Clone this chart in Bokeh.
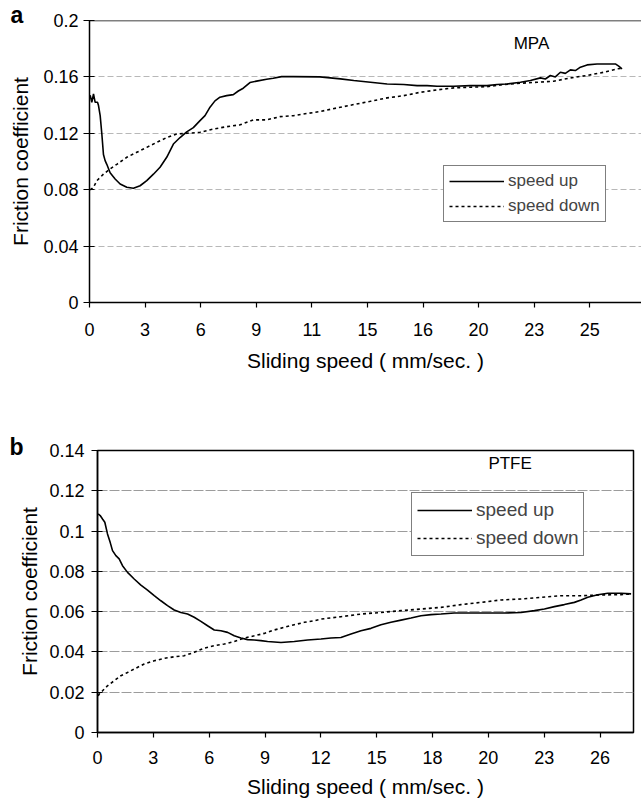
from bokeh.plotting import figure
from bokeh.layouts import column
from bokeh.models import FixedTicker, Label, Span, Range1d, Legend, Title
from bokeh.embed import file_html
from bokeh.resources import INLINE

FONT = "Liberation Sans"

# ---------------- Panel a (MPA) ----------------
# x positions are in evenly spaced tick-slot units (Excel category-style axis)
mpa_x_labels = ["0", "3", "6", "9", "11", "15", "16", "20", "23", "25"]
mpa_y_ticks = [0, 0.04, 0.08, 0.12, 0.16, 0.2]
mpa_y_labels = ["0", "0.04", "0.08", "0.12", "0.16", "0.2"]

mpa_up_pos = [0.012, 0.042, 0.072, 0.102, 0.144, 0.162, 0.192, 0.222, 0.251, 0.281,
              0.311, 0.371, 0.461, 0.551, 0.671, 0.790, 0.910, 1.030, 1.150, 1.269,
              1.389, 1.509, 1.629, 1.749, 1.868, 1.988, 2.078, 2.168, 2.257, 2.347,
              2.467, 2.587, 2.677, 2.766, 2.886, 3.006, 3.186, 3.305, 3.455, 3.665,
              4.144, 4.514, 4.754, 5.054, 5.354, 5.653, 5.893, 6.073, 6.253, 6.553,
              6.853, 7.152, 7.332, 7.512, 7.752, 7.932, 8.112, 8.200, 8.291, 8.380,
              8.471, 8.560, 8.651, 8.740, 8.831, 8.951, 9.131, 9.371, 9.460, 9.520, 9.580]
mpa_up_cof = [0.147, 0.142, 0.148, 0.142, 0.142, 0.1397, 0.1325, 0.1195, 0.105, 0.1006,
              0.098, 0.092, 0.0876, 0.084, 0.0817, 0.081, 0.0828, 0.0864, 0.091, 0.0959,
              0.103, 0.1124, 0.117, 0.121, 0.124, 0.129, 0.1325, 0.1385, 0.143, 0.1456,
              0.1467, 0.1474, 0.150, 0.152, 0.156, 0.157, 0.1583, 0.159, 0.1602, 0.1602,
              0.1600, 0.1586, 0.1574, 0.1562, 0.1550, 0.1546, 0.1538, 0.1538, 0.1534, 0.1534,
              0.1538, 0.1538, 0.1546, 0.1550, 0.1562, 0.1574, 0.1593, 0.1585, 0.1610, 0.1600,
              0.1633, 0.1625, 0.1650, 0.1645, 0.1669, 0.1685, 0.1692, 0.1692, 0.1692, 0.1676, 0.1657]

mpa_down_pos = [0.012, 0.072, 0.132, 0.251, 0.371, 0.491, 0.671, 0.850, 1.030, 1.210,
                1.389, 1.569, 1.749, 1.988, 2.228, 2.467, 2.707, 2.946, 3.186, 3.425,
                3.665, 3.904, 4.144, 4.454, 4.754, 5.054, 5.354, 5.653, 5.953, 6.253,
                6.553, 6.853, 7.152, 7.452, 7.752, 8.052, 8.351, 8.651, 8.951, 9.251,
                9.490, 9.580]
mpa_down_cof = [0.0798, 0.0817, 0.0864, 0.091, 0.0947, 0.098, 0.103, 0.1065, 0.110, 0.1136,
                0.117, 0.1195, 0.120, 0.1207, 0.123, 0.1247, 0.126, 0.1295, 0.1295, 0.1318,
                0.1325, 0.134, 0.1354, 0.138, 0.1404, 0.1427, 0.1451, 0.1467, 0.1491, 0.1508,
                0.1522, 0.1527, 0.1531, 0.1546, 0.1555, 0.1562, 0.1569, 0.1593, 0.161, 0.1633,
                0.1657, 0.1660]

# ---------------- Panel b (PTFE) ----------------
ptfe_x_labels = ["0", "3", "6", "9", "12", "15", "18", "20", "23", "26"]
ptfe_y_ticks = [0, 0.02, 0.04, 0.06, 0.08, 0.1, 0.12, 0.14]
ptfe_y_labels = ["0", "0.02", "0.04", "0.06", "0.08", "0.1", "0.12", "0.14"]

ptfe_up_pos = [0.012, 0.048, 0.090, 0.131, 0.179, 0.227, 0.269, 0.329, 0.388, 0.448,
               0.538, 0.657, 0.777, 0.896, 1.016, 1.135, 1.254, 1.374, 1.493, 1.613,
               1.732, 1.852, 1.971, 2.091, 2.210, 2.330, 2.449, 2.569, 2.688, 2.808,
               2.927, 3.047, 3.286, 3.524, 3.763, 4.002, 4.181, 4.360, 4.540, 4.719,
               4.898, 5.077, 5.256, 5.436, 5.615, 5.794, 5.973, 6.152, 6.391, 6.690,
               6.989, 7.287, 7.586, 7.825, 8.004, 8.183, 8.362, 8.541, 8.661, 8.781,
               8.960, 9.140, 9.378, 9.557]
ptfe_up_cof = [0.1085, 0.1077, 0.1060, 0.1044, 0.0986, 0.0944, 0.0903, 0.0878, 0.0862, 0.0828,
               0.0795, 0.0762, 0.0732, 0.0707, 0.0679, 0.0654, 0.0630, 0.0608, 0.0596, 0.0588,
               0.0572, 0.0552, 0.0530, 0.0509, 0.0505, 0.0497, 0.0480, 0.0469, 0.0461, 0.0459,
               0.0456, 0.0452, 0.0447, 0.0452, 0.0459, 0.0464, 0.0469, 0.0472, 0.0489, 0.0505,
               0.0517, 0.0535, 0.0547, 0.0558, 0.0568, 0.0580, 0.0585, 0.0588, 0.0593, 0.0593,
               0.0593, 0.0593, 0.0596, 0.0605, 0.0613, 0.0625, 0.0635, 0.0646, 0.0658, 0.0671,
               0.0684, 0.0691, 0.0691, 0.0688]

ptfe_down_pos = [0.012, 0.048, 0.090, 0.179, 0.299, 0.418, 0.538, 0.657, 0.836, 1.016,
                 1.195, 1.374, 1.553, 1.732, 1.912, 2.091, 2.270, 2.449, 2.628, 2.808,
                 2.987, 3.166, 3.345, 3.524, 3.704, 3.883, 4.002, 4.360, 4.719, 5.077,
                 5.436, 5.794, 6.152, 6.510, 6.869, 7.228, 7.586, 7.945, 8.303, 8.661,
                 9.020, 9.378, 9.557]
ptfe_down_cof = [0.0182, 0.0199, 0.0207, 0.0232, 0.0257, 0.0282, 0.0298, 0.0315, 0.0340, 0.0356,
                 0.0368, 0.0376, 0.0381, 0.0398, 0.0419, 0.0431, 0.0439, 0.0452, 0.0469, 0.0480,
                 0.0492, 0.0509, 0.0522, 0.0535, 0.0547, 0.0555, 0.0563, 0.0575, 0.0588, 0.0596,
                 0.0605, 0.0613, 0.0621, 0.0635, 0.0646, 0.0658, 0.0663, 0.0671, 0.0679, 0.0679,
                 0.0683, 0.0684, 0.0688]


def style(p, x_labels, y_ticks, y_labels, label_std_y, title_std_y, grid_color, grid_dash):
    p.background_fill_color = "white"
    p.border_fill_color = "white"
    p.xgrid.visible = False
    p.ygrid.ticker = FixedTicker(ticks=y_ticks[1:])
    p.ygrid.grid_line_color = grid_color
    p.ygrid.grid_line_dash = grid_dash
    p.ygrid.grid_line_width = 1

    xa = p.xaxis[0]
    xa.ticker = FixedTicker(ticks=list(range(len(x_labels))))
    xa.major_label_overrides = {i: s for i, s in enumerate(x_labels)}
    xa.minor_tick_line_color = None
    xa.major_tick_in = 0
    xa.major_tick_out = 5
    xa.axis_label = "Sliding speed ( mm/sec. )"

    ya = p.yaxis[0]
    ya.ticker = FixedTicker(ticks=y_ticks)
    ya.major_label_overrides = {t: s for t, s in zip(y_ticks, y_labels)}
    ya.minor_tick_line_color = None
    ya.major_tick_in = 5
    ya.major_tick_out = 6
    ya.major_label_standoff = label_std_y
    ya.axis_label = "Friction coefficient"
    ya.axis_label_standoff = title_std_y

    for ax in (xa, ya):
        ax.axis_line_color = "black"
        ax.axis_line_width = 1.5
        ax.major_tick_line_color = "black"
        ax.major_tick_line_width = 1.2
        ax.major_label_text_font = FONT
        ax.major_label_text_font_size = "18px"
        ax.major_label_text_color = "black"
        ax.axis_label_text_font = FONT
        ax.axis_label_text_font_size = "21px"
        ax.axis_label_text_font_style = "normal"
        ax.axis_label_text_color = "black"


# ---- figure a ----
pa = figure(width=641, height=376, output_backend="svg", toolbar_location=None,
            x_range=Range1d(0, 9.93), y_range=Range1d(0, 0.2),
            min_border_left=89, min_border_right=0, min_border_top=20, min_border_bottom=74)
pa.frame_align = False
pa.outline_line_color = None
style(pa, mpa_x_labels, mpa_y_ticks, mpa_y_labels, 5, 8, "#b8b8b8", "6 3")
pa.xaxis[0].major_label_standoff = 15
pa.xaxis[0].axis_label_standoff = 10
pa.add_layout(Span(location=0.2, dimension="width", line_color="black", line_width=1.5))
pa.add_layout(Title(text="a", align="left", offset=-79, standoff=-14, text_font=FONT,
                    text_font_size="23px", text_font_style="bold", text_color="black"), "above")
la_up = pa.line(mpa_up_pos, mpa_up_cof, line_color="black", line_width=1.6)
la_dn = pa.line(mpa_down_pos, mpa_down_cof, line_color="black", line_width=1.6, line_dash="3 3")
leg_a = Legend(items=[("speed up", [la_up]), ("speed down", [la_dn])],
               location=(354, 80), margin=0, padding=5, spacing=5,
               glyph_width=55, glyph_height=20, label_height=20, label_standoff=4,
               label_text_font=FONT, label_text_font_size="17px",
               border_line_color="black", border_line_width=1.2,
               background_fill_color="white", background_fill_alpha=1)
pa.add_layout(leg_a)
pa.add_layout(Label(x=7.95, y=0.184, text="MPA", text_font=FONT, text_font_size="17px",
                    text_align="center", text_baseline="middle", text_color="black"))

# ---- figure b ----
pb = figure(width=641, height=424, output_backend="svg", toolbar_location=None,
            x_range=Range1d(0, 9.6), y_range=Range1d(0, 0.14),
            min_border_left=97, min_border_right=8, min_border_top=74, min_border_bottom=68)
pb.frame_align = False
pb.outline_line_color = "black"
pb.outline_line_width = 1.5
style(pb, ptfe_x_labels, ptfe_y_ticks, ptfe_y_labels, 7, 5, "#9c9c9c", "10 2")
pb.xaxis[0].major_label_standoff = 13
pb.xaxis[0].axis_label_standoff = 8
pb.add_layout(Title(text="b", align="left", offset=-88, standoff=-18, text_font=FONT,
                    text_font_size="23px", text_font_style="bold", text_color="black"), "above")
lb_up = pb.line(ptfe_up_pos, ptfe_up_cof, line_color="black", line_width=1.6)
lb_dn = pb.line(ptfe_down_pos, ptfe_down_cof, line_color="black", line_width=1.6, line_dash="3 3")
leg_b = Legend(items=[("speed up", [lb_up]), ("speed down", [lb_dn])],
               location=(314, 176), margin=0, padding=5, spacing=4,
               glyph_width=55, glyph_height=24, label_height=24, label_standoff=4,
               label_text_font=FONT, label_text_font_size="19px",
               border_line_color="black", border_line_width=1.2,
               background_fill_color="white", background_fill_alpha=1)
pb.add_layout(leg_b)
pb.add_layout(Label(x=7.39, y=0.1335, text="PTFE", text_font=FONT, text_font_size="17px",
                    text_align="center", text_baseline="middle", text_color="black"))

layout = column(pa, pb, spacing=0)
open("out.html", "w").write(file_html(layout, INLINE))
